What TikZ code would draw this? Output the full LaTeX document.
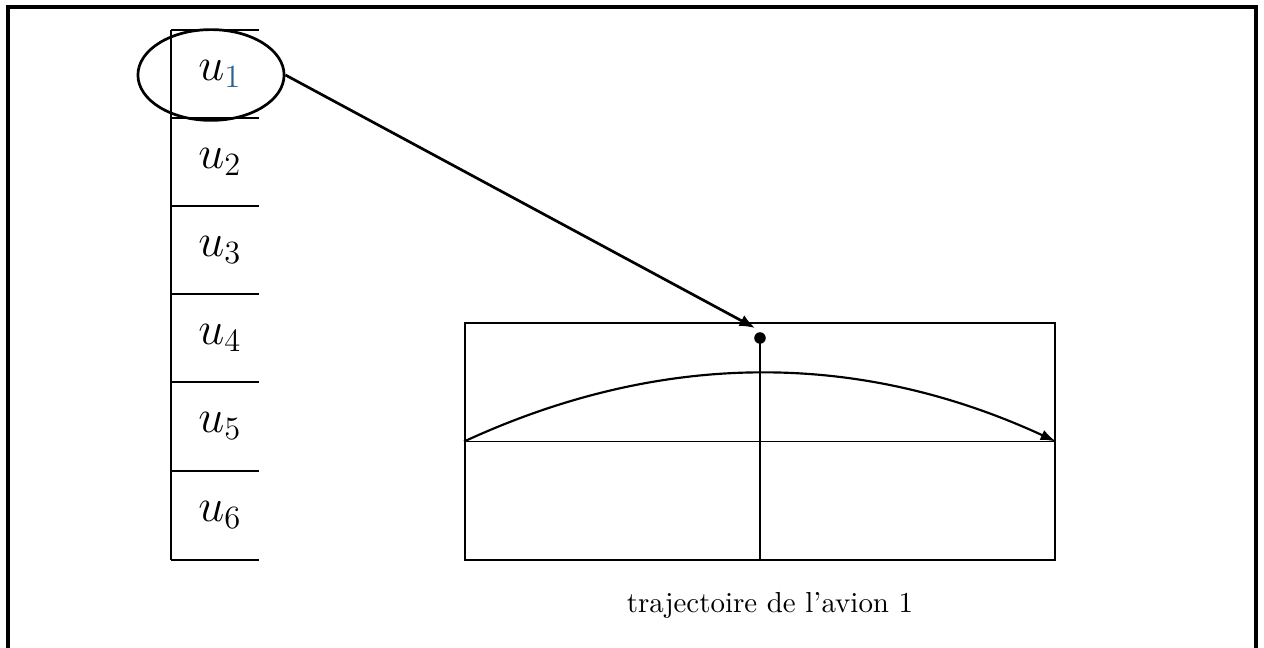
\documentclass[tikz,border=0pt]{standalone}
\usepackage{amsmath}
\usetikzlibrary{arrows.meta, shapes.geometric}
\definecolor{subblue}{RGB}{40, 100, 150}
\begin{document}
\begin{tikzpicture}[x=0.13mm, y=-0.13mm,
    cellrule/.style={line width=0.7pt},
    ulabel/.style={font=\LARGE},
    ]
  \useasboundingbox (0,0) rectangle (1264,648);
  % frame
  \draw[line width=1.3pt] (8,648) -- (8,7) -- (1256,7) -- (1256,648);
  % table of the u_i
  \draw[cellrule] (171,30) -- (171,560);
  \foreach \y in {30,118,206,294,382,471,560}
    \draw[cellrule] (171,\y) -- (259,\y);
  \node[ulabel] (u1) at (220,74) {$u_{\textcolor{subblue}{1}}$};
  \foreach \i/\y in {2/162,3/250,4/338,5/426,6/515}
    \node[ulabel] (u\i) at (220,\y) {$u_{\i}$};
  % selected cell
  \node[draw, ellipse, line width=1pt, inner sep=0pt,
        minimum width=19mm, minimum height=11.8mm] (sel) at (211,75) {};
  % trajectory box
  \node[draw, cellrule, inner sep=0pt, minimum width=76.7mm,
        minimum height=30.8mm] (box) at (760,441.5) {};
  \coordinate (tip) at (755,328);
  \coordinate (peak) at (760,338);
  \draw[line width=1pt, -{Latex[length=2mm, width=1.6mm]}] (sel.east) -- (tip);
  \fill (peak) circle (0.75mm);
  \draw[cellrule] (peak) -- (box.south);
  \draw[cellrule] (box.west) -- (box.east);
  \draw[line width=0.8pt, -{Latex[length=2mm, width=1.4mm]}]
    (box.west) .. controls (661.7,350.3) and (858.3,350.3) .. (box.east);
  \node[font=\fontsize{10.7}{13}\selectfont] (cap) at (770,605)
    {trajectoire de l'avion 1};
\end{tikzpicture}
\end{document}
